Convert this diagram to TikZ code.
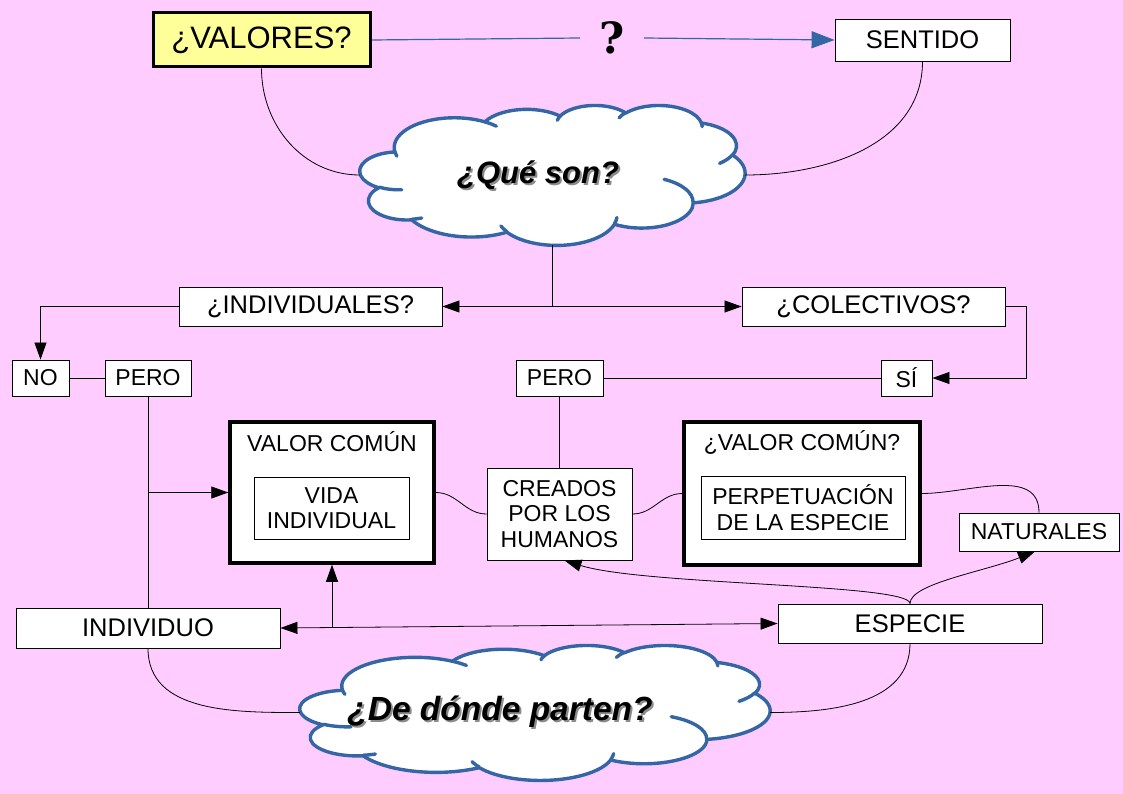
\documentclass[tikz,border=0pt]{standalone}
\usepackage{fontspec}
\setmainfont{Liberation Sans}
\newfontfamily\qfont{DejaVu Serif}
\usetikzlibrary{arrows.meta}
\definecolor{bgpink}{RGB}{255,204,255}
\definecolor{cloudblue}{RGB}{52,101,164}
\definecolor{valyellow}{RGB}{255,255,153}
% convert an OOXML arcTo (visual angles) to parametric TikZ arc angles
\newcommand\ooconv[4]{%
  \pgfmathsetmacro\ooA{#3}%
  \pgfmathsetmacro\ooB{#3+#4}%
  \pgfmathsetmacro\ooTA{atan2(#1*sin(\ooA), #2*cos(\ooA))}%
  \pgfmathsetmacro\ooTA{\ooTA+360*round((\ooA-\ooTA)/360)}%
  \pgfmathsetmacro\ooTB{atan2(#1*sin(\ooB), #2*cos(\ooB))}%
  \pgfmathsetmacro\ooTB{\ooTB+360*round((\ooB-\ooTB)/360)}%
  \pgfmathsetmacro\ooTD{\ooTB-\ooTA}%
  \xdef\ooS{\ooTA}\xdef\ooD{\ooTD}%
}
\tikzset{
  ooarc/.style n args={4}{/utils/exec={\ooconv{#1}{#2}{#3}{#4}},
    insert path={arc[start angle=\ooS, delta angle=\ooD, x radius=#1pt, y radius=#2pt]}},
}
% cloud drawn in a 10800x10800 frame (y down), placed at top-left #1, size #2 x #3
\newcommand\oocloud[3]{%
  \begin{scope}[shift={#1}, xscale=#2/10800, yscale=-#3/10800]
    \draw[cloudline, fill=white] (975,3592.5)
      [ooarc={1688.25}{2297.5}{-190.4875}{123.7805}]
      [ooarc={1333.25}{1816.75}{-144.1024}{89.9452}]
      [ooarc={1091.25}{1486.25}{-145.8079}{99.7230}]
      [ooarc={1214.25}{1648.75}{-130.9861}{117.2417}]
      [ooarc={1333.25}{1818.25}{-78.7089}{109.0269}]
      [ooarc={1693.75}{2305}{-46.2673}{130.2690}]
      [ooarc={1446.25}{1966.75}{0.6250}{114.0333}]
      [ooarc={1688}{2303.75}{22.4516}{115.1726}]
      [ooarc={1930}{2635.75}{66.2426}{75.7110}]
      [ooarc={1090}{1479.5}{-274.9421}{146.7356}]
      [ooarc={1086.25}{1486.25}{-246.8285}{152.5189}]
      -- cycle;
    \draw[cloudline] (1173.25,6544.25) [ooarc={1086.25}{1486.25}{86.7420}{26.4295}];
    \draw[cloudline] (1732,8724.75) [ooarc={1090}{1479.5}{73.6105}{11.4475}];
    \draw[cloudline] (4119.5,9772.5) [ooarc={1688}{2303.75}{137.6242}{14.0811}];
    \draw[cloudline] (7206.75,8687.75) [ooarc={1688}{2303.75}{6.4533}{15.9984}];
    \draw[cloudline] (8532.25,5738.5) [ooarc={1446.25}{1966.75}{-70.2924}{70.9174}];
    \draw[cloudline] (10449.5,3838.5) [ooarc={1333.25}{1818.25}{30.3180}{27.7515}];
    \draw[cloudline] (9581,1356.5) [ooarc={1214.25}{1648.75}{-13.7443}{14.8589}];
    \draw[cloudline] (7269.5,988) [ooarc={1214.25}{1648.75}{-149.1815}{18.1954}];
    \draw[cloudline] (5535.25,1180) [ooarc={1091.25}{1486.25}{-163.4943}{17.6864}];
    \draw[cloudline] (3500,1298) [ooarc={1688.25}{2297.5}{-66.7070}{12.3194}];
    \draw[cloudline] (1031.75,3947.25) [ooarc={1688.25}{2297.5}{157.6544}{11.8582}];
  \end{scope}}
\begin{document}
\begin{tikzpicture}[x=1pt,y=1pt,
  box/.style={draw=black, fill=white, line width=0.9pt, inner sep=0pt, align=center, font=\fontsize{23}{25.5}\selectfont},
  bigtxt/.style={font=\fontsize{25.5}{28}\selectfont},
  thickbox/.style={draw=black, fill=white, line width=3.5pt, inner sep=0pt},
  txt/.style={inner sep=0pt, align=center, font=\fontsize{23}{25.5}\selectfont},
  conn/.style={draw=black, line width=0.8pt},
  arr/.style={conn, -{Triangle[length=17pt,width=12pt]}},
  cloudline/.style={draw=cloudblue, line width=3.4pt, line cap=round, line join=round},
  cloudbox/.style={inner sep=0pt, minimum width=#1},
  cloudtxt/.style={inner sep=0pt, font=\bfseries\itshape\fontsize{31}{34}\selectfont},
]
\useasboundingbox (0,0) rectangle (1123,-794);
\fill[bgpink] (0,0) rectangle (1123,-794);

% top row
\node[box, fill=valyellow, line width=3pt, minimum width=217pt, minimum height=54pt, font=\fontsize{31}{33}\selectfont] (val) at (261.5,-40) {¿VALORES?};
\node[box, bigtxt, minimum width=175pt, minimum height=42pt] (sen) at (922.5,-40) {SENTIDO};
\node[inner xsep=19pt, inner ysep=0pt, font=\qfont\bfseries\fontsize{43}{43}\selectfont] (q) at (612,-38) {?};
\draw[cloudblue, line width=1.2pt] (val.east) -- (q.west);
\draw[cloudblue, line width=1.2pt, -{Triangle[length=23pt,width=17pt]}] (q.east) -- (sen.west);

% cloud 1
\node[cloudbox=385pt, minimum height=140pt] (qs) at (552.5,-175) {};
\oocloud{(360,-105)}{385}{140}
\node[cloudtxt, text=black!45] at (540,-177) {¿Qué son?};
\node[cloudtxt] (qst) at (538,-175) {¿Qué son?};

% second row
\node[box, bigtxt, minimum width=263pt, minimum height=39pt] (ind) at (310.5,-306.5) {¿INDIVIDUALES?};
\node[box, bigtxt, minimum width=263pt, minimum height=39pt] (col) at (873.5,-306.5) {¿COLECTIVOS?};

% third row
\node[box, minimum width=57pt, minimum height=36pt] (no) at (40.5,-378) {NO};
\node[box, minimum width=86pt, minimum height=36pt] (pero1) at (148,-378) {PERO};
\node[box, minimum width=87pt, minimum height=36pt] (pero2) at (559.5,-378) {PERO};
\node[box, minimum width=51pt, minimum height=36pt] (si) at (906.5,-378) {SÍ};

% value boxes
\node[thickbox, minimum width=204pt, minimum height=141pt] (vc) at (332,-492.5) {};
\node[txt] (vct) at (332,-442) {VALOR COMÚN};
\node[box, minimum width=155pt, minimum height=62pt] (vi) at (331.5,-508) {VIDA\\INDIVIDUAL};

\node[thickbox, minimum width=236pt, minimum height=143pt] (vcq) at (802,-493.5) {};
\node[txt] (vcqt) at (802,-442) {¿VALOR COMÚN?};
\node[box, minimum width=204pt, minimum height=63pt] (pe) at (803,-507.5) {PERPETUACIÓN\\DE LA ESPECIE};

\node[box, minimum width=145pt, minimum height=92pt] (cre) at (559.5,-514) {CREADOS\\POR LOS\\HUMANOS};
\node[box, minimum width=160pt, minimum height=38pt] (nat) at (1039,-532) {NATURALES};

% bottom row
\node[box, bigtxt, minimum width=264pt, minimum height=40pt] (indiv) at (148,-628) {INDIVIDUO};
\node[box, bigtxt, minimum width=264pt, minimum height=39pt] (esp) at (910,-623.5) {ESPECIE};

% cloud 2
\node[cloudbox=470pt, minimum height=135pt] (dp) at (535,-712.5) {};
\oocloud{(300,-645)}{470}{135}
\node[cloudtxt, font=\bfseries\itshape\fontsize{33.5}{36}\selectfont, text=black!45] at (502,-714) {¿De dónde parten?};
\node[cloudtxt, font=\bfseries\itshape\fontsize{33.5}{36}\selectfont] (dpt) at (500,-712) {¿De dónde parten?};

% connectors
\draw[conn] (val.south) to[out=-90,in=180] (qs.west);
\draw[conn] (sen.south) to[out=-90,in=0] (qs.east);
\draw[arr] (qs.south) |- (ind.east);
\draw[arr] (qs.south) |- (col.west);
\draw[arr] (ind.west) -| (no.north);
\draw[arr] (col.east) -- ++(21,0) |- (si.east);
\draw[conn] (no) -- (pero1);
\draw[conn] (pero2) -- (si);
\draw[conn] (pero1.south) -- (indiv.north);
\draw[arr] (pero1.south |- vc.west) -- (vc.west);
\draw[conn] (pero2) -- (cre);
\draw[conn] (vc.east) to[out=0,in=180] (cre.west);
\draw[conn] (cre.east) to[out=0,in=180] (vcq.west);
\draw[conn] (vcq.east) to[out=0,in=90] (nat.north);
\draw[conn, {Triangle[length=17pt,width=12pt]}-{Triangle[length=17pt,width=12pt]}] (indiv.east) -- (esp.west);
\draw[arr] (vc.south |- indiv.east) -- (vc.south);
\draw[arr] (esp.north) .. controls +(0,20) and +(80,-25) .. ([xshift=5pt]cre.south);
\draw[arr] (esp.north) .. controls +(0,20) and +(-50,-20) .. ([xshift=-4pt]nat.south);
\draw[conn] (indiv.south) to[out=-90,in=180] (dp.west);
\draw[conn] (esp.south) to[out=-90,in=0] (dp.east);
\end{tikzpicture}
\end{document}
